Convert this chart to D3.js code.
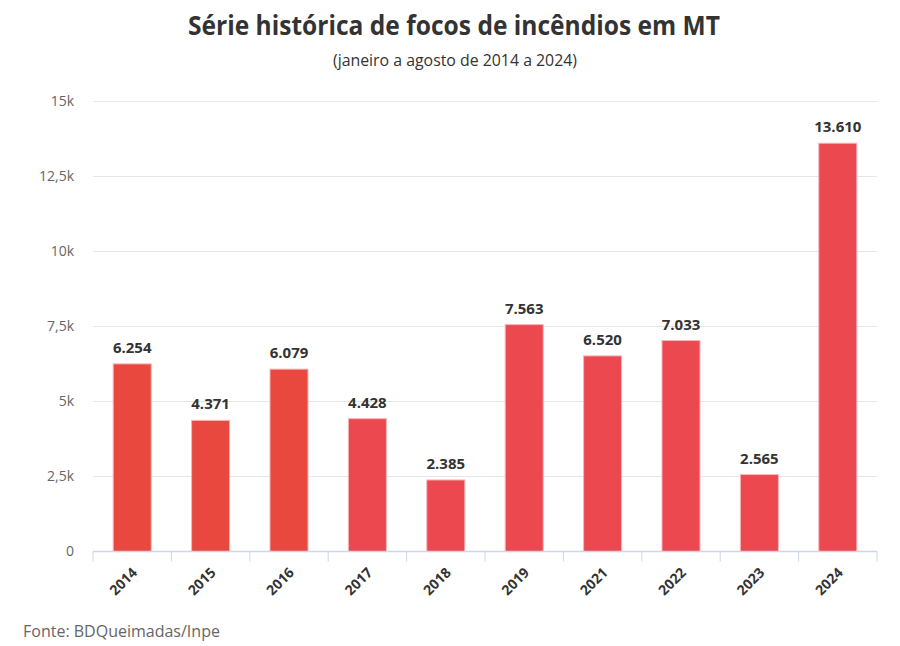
<!DOCTYPE html>
<html>
<head>
<meta charset="utf-8">
<script src="https://cdn.jsdelivr.net/npm/d3@7"></script>
<style>
  body { margin: 0; background: #fff; }
  text { font-family: "Open Sans", sans-serif; }
</style>
</head>
<body>
<script>
// focos de incendio em MT, janeiro a agosto (BDQueimadas/Inpe)
var years = ["2014", "2015", "2016", "2017", "2018", "2019", "2021", "2022", "2023", "2024"];
var focos = [6254, 4371, 6079, 4428, 2385, 7563, 6520, 7033, 2565, 13610];
var yTicks = [0, 2500, 5000, 7500, 10000, 12500, 15000];

var w = 900;
var h = 646;
var plotLeft = 93, plotRight = 877, plotTop = 101.5, plotBottom = 551.5;  //plot box (don't use "top", window.top is read-only!)

var pt = d3.formatLocale({decimal: ",", thousands: ".", grouping: [3], currency: ["R$", ""]});
var fmtVal = pt.format(",d");  //6.254
var fmtK = function(d) { return d === 0 ? "0" : pt.format(",~r")(d / 1000) + "k"; };  //12,5k

var svg = d3.select("body")
            .append("svg")
            .attr("width", w)
            .attr("height", h);

var x = d3.scaleBand()
          .domain(years)
          .range([plotLeft, plotRight])
          .paddingInner(0.515)
          .paddingOuter(0.2575);

var y = d3.scaleLinear()
          .domain([0, 15000])
          .range([plotBottom, plotTop]);

// first three years a bit more orange, like the original
var color = d3.scaleOrdinal()
              .domain(years)
              .range(["#e9483f", "#e9483f", "#e9483f", "#ec4850", "#ec4850", "#ec4850", "#ec4850", "#ec4850", "#ec4850", "#ec4850"]);

// title + subtitle
svg.append("text")
   .attr("x", 454)
   .attr("y", 35)
   .attr("text-anchor", "middle")
   .attr("font-size", 26)
   .attr("font-weight", "bold")
   .attr("fill", "#333")
   .attr("textLength", 532)
   .attr("lengthAdjust", "spacingAndGlyphs")
   .text("Série histórica de focos de incêndios em MT");

svg.append("text")
   .attr("x", 455)
   .attr("y", 66)
   .attr("text-anchor", "middle")
   .attr("font-size", 16)
   .attr("fill", "#333")
   .attr("textLength", 244)
   .attr("lengthAdjust", "spacingAndGlyphs")
   .text("(janeiro a agosto de 2014 a 2024)");

// grid lines
svg.append("g")
   .selectAll("line")
   .data(yTicks.filter(function(d) { return d > 0; }))
   .enter()
   .append("line")
   .attr("x1", plotLeft)
   .attr("x2", plotRight)
   .attr("y1", function(d) { return y(d); })
   .attr("y2", function(d) { return y(d); })
   .attr("stroke", "#e6e6e6")
   .attr("stroke-width", 1);

// y axis labels (no line)
var yAxis = svg.append("g")
               .attr("transform", "translate(" + (plotLeft - 19) + ",0)")
               .call(d3.axisLeft(y).tickValues(yTicks).tickFormat(fmtK).tickSize(0).tickPadding(0));
yAxis.select(".domain").remove();
yAxis.selectAll("text")
     .attr("font-size", 14)
     .attr("fill", "#666")
     .attr("font-family", "Open Sans, sans-serif");

// bars
svg.append("g")
   .selectAll("rect")
   .data(focos)
   .enter()
   .append("rect")
   .attr("x", function(d, i) { return x(years[i]); })
   .attr("y", function(d) { return y(d); })
   .attr("width", x.bandwidth())
   .attr("height", function(d) { return plotBottom - y(d); })
   .attr("fill", function(d, i) { return color(years[i]); })
   .attr("stroke", "#f7b5b8")
   .attr("stroke-width", 1);

// value labels on top of bars
svg.append("g")
   .selectAll("text")
   .data(focos)
   .enter()
   .append("text")
   .attr("x", function(d, i) { return x(years[i]) + x.bandwidth() / 2; })
   .attr("y", function(d) { return y(d) - 11; })
   .attr("text-anchor", "middle")
   .attr("font-size", 15)
   .attr("font-weight", "bold")
   .attr("fill", "#333")
   .text(function(d) { return fmtVal(d); });

// x axis: line, ticks between bands, rotated labels
var xg = svg.append("g");
xg.append("line")
  .attr("x1", plotLeft)
  .attr("x2", plotRight)
  .attr("y1", plotBottom)
  .attr("y2", plotBottom)
  .attr("stroke", "#ccd6eb")
  .attr("stroke-width", 1.5);

var tickX = years.map(function(d) { return x(d) - (x.step() - x.bandwidth()) / 2; });  //band edges
tickX.push(plotRight);
xg.selectAll("line.tick")
  .data(tickX)
  .enter()
  .append("line")
  .attr("class", "tick")
  .attr("x1", function(d) { return d; })
  .attr("x2", function(d) { return d; })
  .attr("y1", plotBottom)
  .attr("y2", plotBottom + 10)
  .attr("stroke", "#ccd6eb")
  .attr("stroke-width", 1);

xg.selectAll("text")
  .data(years)
  .enter()
  .append("text")
  .attr("transform", function(d) { return "translate(" + (x(d) + x.bandwidth() / 2 + 6) + "," + (plotBottom + 22) + ") rotate(-45)"; })
  .attr("text-anchor", "end")
  .attr("font-size", 14)
  .attr("font-weight", "bold")
  .attr("fill", "#333")
  .text(function(d) { return d; });

// source
svg.append("text")
   .attr("x", 23)
   .attr("y", 637)
   .attr("font-size", 16)
   .attr("fill", "#666")
   .text("Fonte: BDQueimadas/Inpe");
</script>
</body>
</html>
